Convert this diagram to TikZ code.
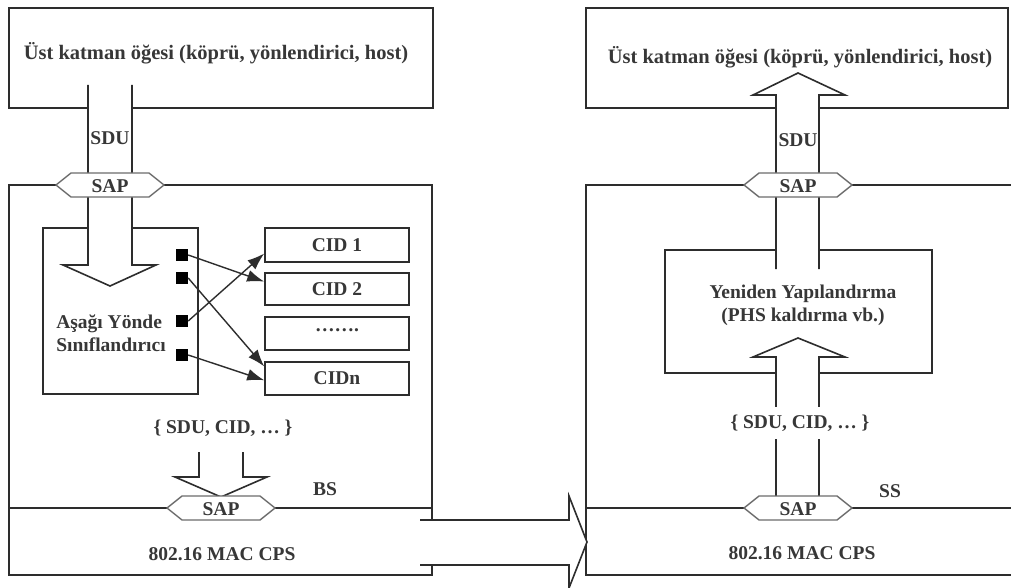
\documentclass[tikz,border=0pt]{standalone}
\usepackage{fontspec}
\setmainfont{Liberation Serif}
\usetikzlibrary{arrows.meta,calc}
\definecolor{ink}{RGB}{45,45,45}
\definecolor{txt}{RGB}{55,55,55}
\tikzset{
  ln/.style={draw=ink,line width=1.6pt},
  boxst/.style={ln,fill=white},
  blockarrow/.style={ln,fill=white,line join=miter},
  hexst/.style={draw=ink!70,line width=1.4pt,fill=white},
  lbl/.style={text=txt,font=\fontsize{19.5}{23}\selectfont\bfseries,inner sep=1pt},
  title/.style={text=txt,font=\fontsize{20.5}{23}\selectfont\bfseries,inner sep=1pt},
  sq/.style={fill=black,minimum size=12pt,inner sep=0pt},
  conn/.style={draw=ink,line width=1.4pt,-{Latex[length=17pt,width=12pt]}},
}
\newcommand\sapbox[3]{% name, x, y
  \coordinate (#1c) at (#2,#3);
  \draw[hexst] ($(#1c)+(-54,0)$) -- ($(#1c)+(-39,-12)$) -- ($(#1c)+(39,-12)$) -- ($(#1c)+(54,0)$) -- ($(#1c)+(39,12)$) -- ($(#1c)+(-39,12)$) -- cycle;
  \node[lbl] (#1) at ($(#1c)+(0,1)$) {SAP};}
\begin{document}
\begin{tikzpicture}[x=1pt,y=-1pt]
\useasboundingbox (0,0) rectangle (1011,588);
% ---------------- left side ----------------
\draw[boxst] (9,8) rectangle (433,108);
\node[title] (ltitle) at (216,53) {Üst katman öğesi (köprü, yönlendirici, host)};
\draw[boxst] (9,185) rectangle (432,575);
\draw[ln] (9,508) -- (432,508);
\draw[boxst] (43,228) rectangle (198,394);
\node[boxst,minimum width=144pt,minimum height=34pt,inner sep=0pt] (cid1) at (337,245) {};
\node[boxst,minimum width=144pt,minimum height=32pt,inner sep=0pt] (cid2) at (337,289) {};
\node[boxst,minimum width=144pt,minimum height=33pt,inner sep=0pt] (cid3) at (337,333.5) {};
\node[boxst,minimum width=144pt,minimum height=33pt,inner sep=0pt] (cidn) at (337,378.5) {};
\node[lbl] at (cid1) {CID 1};
\node[lbl] at (cid2) {CID 2};
\node[lbl] at ($(cid3)+(0,-3)$) {…….};
\node[lbl] at (cidn) {CIDn};
\node[lbl,align=left] (clsf) at (111,333) {Aşağı Yönde\\Sınıflandırıcı};
\node[sq] (s1) at (182,255) {};
\node[sq] (s2) at (182,278) {};
\node[sq] (s3) at (182,321) {};
\node[sq] (s4) at (182,355) {};
\draw[conn] (s1.east) -- ($(cid2.north west)!0.28!(cid2.south west)$);
\draw[conn] (s3.east) -- ($(cid1.north west)!0.74!(cid1.south west)$);
\draw[conn] (s2.east) -- ($(cidn.north west)!0.15!(cidn.south west)$);
\draw[conn] (s4.east) -- ($(cidn.north west)!0.55!(cidn.south west)$);
% SDU down arrow
\draw[blockarrow] (88,85) -- (88,265) -- (63,265) -- (110,286) -- (156,265) -- (132,265) -- (132,85);
\node[lbl] (lsdu) at (110,138) {SDU};
\sapbox{lsap1}{110}{185}
% small down arrow
\node[lbl] (lset) at (223,428) {\{ SDU, CID, … \}};
\draw[blockarrow] (199,452) -- (199,477) -- (175,477) -- (221,497) -- (267,477) -- (243,477) -- (243,452);
\sapbox{lsap2}{221}{508}
\node[lbl] (bs) at (325,489) {BS};
\node[lbl] (lmac) at (222,554) {802.16 MAC CPS};
% ---------------- right side ----------------
\draw[boxst] (586,8) rectangle (1008,108);
\node[title] (rtitle) at (800,57) {Üst katman öğesi (köprü, yönlendirici, host)};
\draw[ln] (1012,185) -- (586,185) -- (586,575) -- (1012,575);
\draw[ln] (586,508) -- (1012,508);
\draw[boxst] (665,250) rectangle (932,373);
\node[lbl,align=center] (recon) at (803,305) {Yeniden Yapılandırma\\(PHS kaldırma vb.)};
% up arrow to upper layer
\draw[blockarrow] (776,269) -- (776,95) -- (753,95) -- (798,73) -- (845,95) -- (819,95) -- (819,269);
\node[lbl] (rsdu) at (798,140) {SDU};
\sapbox{rsap1}{798}{185}
% inner up arrow
\draw[blockarrow] (776,497) -- (776,357) -- (753,357) -- (798,338) -- (845,357) -- (819,357) -- (819,497);
\node[lbl,fill=white,inner ysep=8pt] (rset) at (800,423) {\{ SDU, CID, … \}};
\sapbox{rsap2}{798}{508}
\node[lbl] (ss) at (890,491) {SS};
\node[lbl] (rmac) at (802,553) {802.16 MAC CPS};
% ---------------- big transfer arrow ----------------
\draw[blockarrow] (420,520) -- (569,520) -- (569,496) -- (587,542) -- (569,588) -- (569,565) -- (420,565);
\end{tikzpicture}
\end{document}
